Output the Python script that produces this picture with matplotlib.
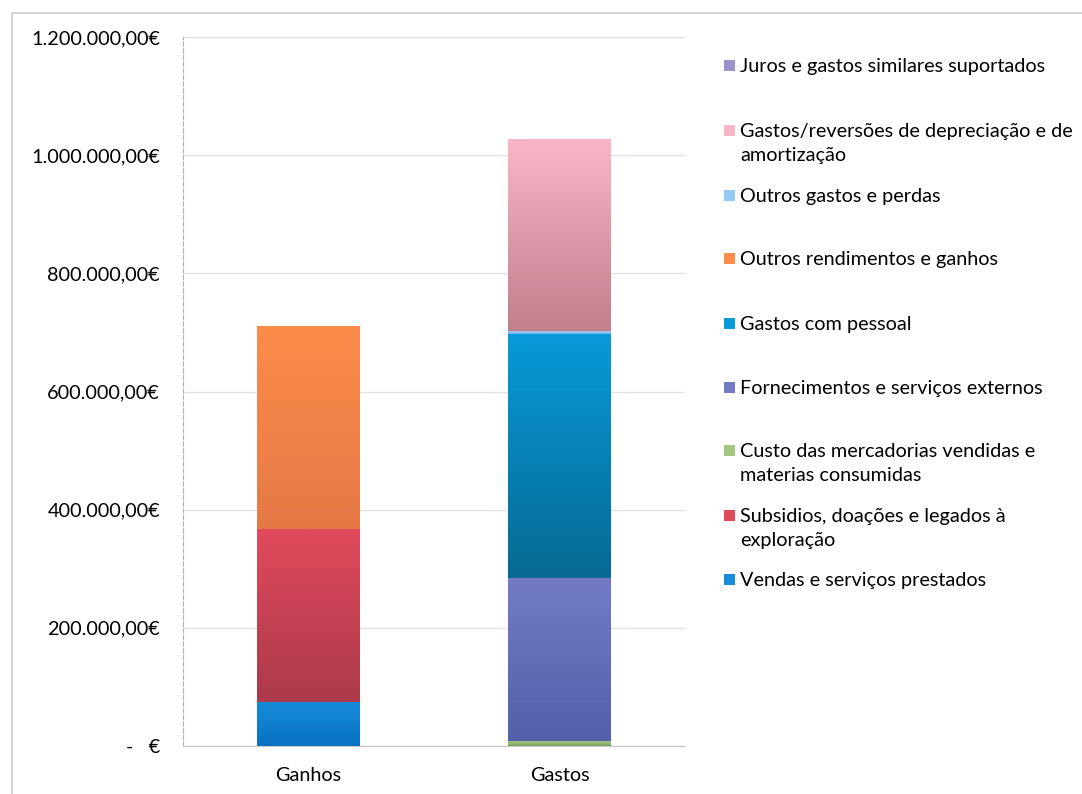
import numpy as np
import matplotlib.pyplot as plt
from matplotlib.colors import LinearSegmentedColormap
from matplotlib.patches import Rectangle

plt.rcParams['font.family'] = ['Lato', 'DejaVu Sans']

# categories on the x axis
categories = ['Ganhos', 'Gastos']

# series in stacking order (bottom to top), values per category
series_names = [
    'Vendas e serviços prestados',
    'Subsidios, doações e legados à\nexploração',
    'Custo das mercadorias vendidas e\nmaterias consumidas',
    'Fornecimentos e serviços externos',
    'Gastos com pessoal',
    'Outros rendimentos e ganhos',
    'Outros gastos e perdas',
    'Gastos/reversões de depreciação e de\namortização',
    'Juros e gastos similares suportados',
]
vendas = [75000, 0]
subsidios = [292000, 0]
custo_mercadorias = [0, 8000]
fornecimentos = [0, 276000]
pessoal = [0, 413000]
outros_rendimentos = [344000, 0]
outros_gastos = [0, 5000]
depreciacao = [0, 325000]
juros = [0, 1000]
series_values = [vendas, subsidios, custo_mercadorias, fornecimentos, pessoal,
                 outros_rendimentos, outros_gastos, depreciacao, juros]

# gradient colours (top, bottom) for each series
series_colors = [
    ('#168cda', '#0a72c2'),
    ('#e04a5c', '#ac3a4a'),
    ('#a2c882', '#7aa060'),
    ('#737bc6', '#5360ac'),
    ('#089ad8', '#066a94'),
    ('#fc8c4a', '#e67846'),
    ('#94caf2', '#7cb4e6'),
    ('#f8b6c6', '#c0808e'),
    ('#9a92ca', '#7870b0'),
]

yticks = [0, 200000, 400000, 600000, 800000, 1000000, 1200000]


def euro(v):
    if v == 0:
        return '-   €'
    s = f'{v:,.2f}'
    s = s.replace(',', ' ').replace('.', ',').replace(' ', '.')
    return s + '€'


W, H = 1082, 794
fig = plt.figure(figsize=(W / 100, H / 100), dpi=100)
fig.patch.set_facecolor('white')
ax = fig.add_axes([183 / W, 1 - 746 / H, (685 - 183) / W, (746 - 37) / H])

x = np.arange(len(categories))
bottom = np.zeros(len(categories))
for name, vals, (ctop, cbot) in zip(series_names, series_values, series_colors):
    bars = ax.bar(x, vals, width=0.41, bottom=bottom, color=cbot, linewidth=0, zorder=2)
    cmap = LinearSegmentedColormap.from_list(name, [cbot, ctop])
    grad = np.linspace(0, 1, 64).reshape(-1, 1)
    for b in bars:
        if b.get_height() <= 0:
            continue
        bx, by = b.get_x(), b.get_y()
        im = ax.imshow(grad, cmap=cmap, origin='lower', aspect='auto',
                       extent=(bx, bx + b.get_width(), by, by + b.get_height()),
                       interpolation='bilinear', zorder=3)
        im.set_clip_path(b)
    bottom += np.array(vals)

fs = 14.3
ax.set_xlim(-0.5, len(categories) - 0.5)
ax.set_ylim(0, 1200000)
ax.set_yticks(yticks)
ax.set_yticklabels([euro(v) for v in yticks], fontsize=fs)
ax.set_xticks(x)
ax.set_xticklabels(categories, fontsize=fs)
ax.tick_params(axis='y', length=0, pad=16.5)
ax.tick_params(axis='x', length=0, pad=15)
ax.grid(axis='y', color='#e2e2e2', linewidth=1, zorder=0)
ax.set_axisbelow(True)
for s in ['top', 'right']:
    ax.spines[s].set_visible(False)
ax.spines['left'].set_color('#b0b0b0')
ax.spines['left'].set_linestyle((0, (4, 2)))
ax.spines['left'].set_linewidth(0.8)
ax.spines['bottom'].set_color('#c8c8c8')

# chart-area frame (runs off the right and bottom edges as in the scan)
fig.patches.append(Rectangle((12 / W, -0.05), 1.1, 1 - 13 / H + 0.05,
                             transform=fig.transFigure, fill=False,
                             edgecolor='#d4d4d4', linewidth=1.5))

# legend, top-to-bottom in reverse stacking order
legend_y = [65, 130, 195, 258, 323, 387, 450, 515, 579]
for (name, (ctop, cbot)), ly in zip(list(zip(series_names, series_colors))[::-1], legend_y):
    fig.patches.append(Rectangle((724 / W, 1 - (ly + 6) / H), 11 / W, 11 / H,
                                 transform=fig.transFigure, facecolor=ctop,
                                 edgecolor='none'))
    fig.text(740 / W, 1 - (ly - 7) / H, name, fontsize=fs, va='top', ha='left',
             linespacing=1.5)

fig.savefig('out.png', dpi=100)
